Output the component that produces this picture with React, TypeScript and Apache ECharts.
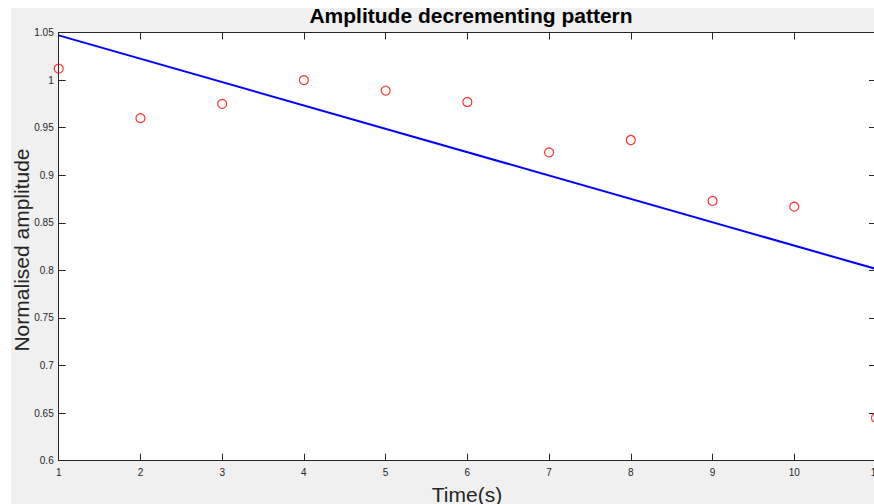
import React, { useEffect, useRef } from "react";
import * as echarts from "echarts";

const timeSeconds = [1, 2, 3, 4, 5, 6, 7, 8, 9, 10, 11];
const normalisedAmplitude = [1.012, 0.960, 0.975, 1.0, 0.989, 0.977, 0.924, 0.937, 0.873, 0.867, 0.645];
const fitTimes = [1, 11];
const fitValues = [1.047, 0.8015];

const FONT = "'Liberation Sans', Arial, Helvetica, sans-serif";
const AXIS_COLOR = "#262626";

export default function App() {
  const ref = useRef<HTMLDivElement>(null);

  useEffect(() => {
    if (!ref.current) return;
    const chart = echarts.init(ref.current, undefined, { renderer: "svg" });
    const xBase = {
      type: "value" as const,
      min: 1,
      max: 11,
      interval: 1,
      splitLine: { show: false },
      axisLine: { show: true, onZero: false, lineStyle: { color: AXIS_COLOR, width: 1 } },
      axisTick: { show: true, inside: true, length: 7, lineStyle: { color: AXIS_COLOR } },
    };
    const yBase = {
      type: "value" as const,
      min: 0.6,
      max: 1.05,
      interval: 0.05,
      splitLine: { show: false },
      axisLine: { show: true, onZero: false, lineStyle: { color: AXIS_COLOR, width: 1 } },
      axisTick: { show: true, inside: true, length: 7, lineStyle: { color: AXIS_COLOR } },
    };
    chart.setOption({
      animation: false,
      backgroundColor: "transparent",
      textStyle: { fontFamily: FONT },
      grid: { left: 47.7, right: 15, top: 32.5, bottom: 43.3, show: true, backgroundColor: "#ffffff", borderWidth: 0 },
      xAxis: [
        {
          ...xBase,
          position: "bottom",
          axisLabel: { show: true, color: AXIS_COLOR, fontSize: 10, fontFamily: FONT, margin: 7 },
        },
        { ...xBase, position: "top", axisLabel: { show: false } },
      ],
      yAxis: [
        {
          ...yBase,
          position: "left",
          axisLabel: {
            show: true,
            color: AXIS_COLOR,
            fontSize: 10,
            fontFamily: FONT,
            margin: 5,
            formatter: (v: number) => String(+v.toFixed(2)),
          },
        },
        { ...yBase, position: "right", axisLabel: { show: false } },
      ],
      graphic: [
        {
          type: "text",
          x: 460,
          y: 15.5,
          style: {
            text: "Amplitude decrementing pattern",
            fontSize: 21,
            fontWeight: "bold",
            fontFamily: FONT,
            fill: "#000000",
            textAlign: "center",
            textVerticalAlign: "middle",
          },
        },
        {
          type: "text",
          x: 456,
          y: 494,
          style: {
            text: "Time(s)",
            fontSize: 21,
            fontFamily: FONT,
            fill: AXIS_COLOR,
            textAlign: "center",
            textVerticalAlign: "middle",
          },
        },
        {
          type: "text",
          x: 10,
          y: 250,
          rotation: Math.PI / 2,
          style: {
            text: "Normalised amplitude",
            fontSize: 21,
            fontFamily: FONT,
            fill: AXIS_COLOR,
            textAlign: "center",
            textVerticalAlign: "middle",
          },
        },
      ],
      series: [
        {
          type: "scatter",
          xAxisIndex: 0,
          yAxisIndex: 0,
          data: timeSeconds.map((t, i) => [t, normalisedAmplitude[i]]),
          symbol: "circle",
          symbolSize: 9,
          itemStyle: { color: "rgba(0,0,0,0)", borderColor: "#ff0000", borderWidth: 1.2 },
          z: 3,
        },
        {
          type: "line",
          xAxisIndex: 0,
          yAxisIndex: 0,
          data: fitTimes.map((t, i) => [t, fitValues[i]]),
          showSymbol: false,
          symbol: "none",
          lineStyle: { color: "#0000ff", width: 2 },
          z: 2,
        },
      ],
    });
    return () => chart.dispose();
  }, []);

  return (
    <div
      style={{
        position: "fixed",
        left: 0,
        top: 0,
        width: 874,
        height: 504,
        overflow: "hidden",
        background: "#ffffff",
      }}
    >
      <div style={{ position: "absolute", left: 11, top: 8, width: 880, height: 496, background: "#f0f0f0" }} />
      <div ref={ref} style={{ position: "absolute", left: 11, top: 0, width: 880, height: 504 }} />
    </div>
  );
}
